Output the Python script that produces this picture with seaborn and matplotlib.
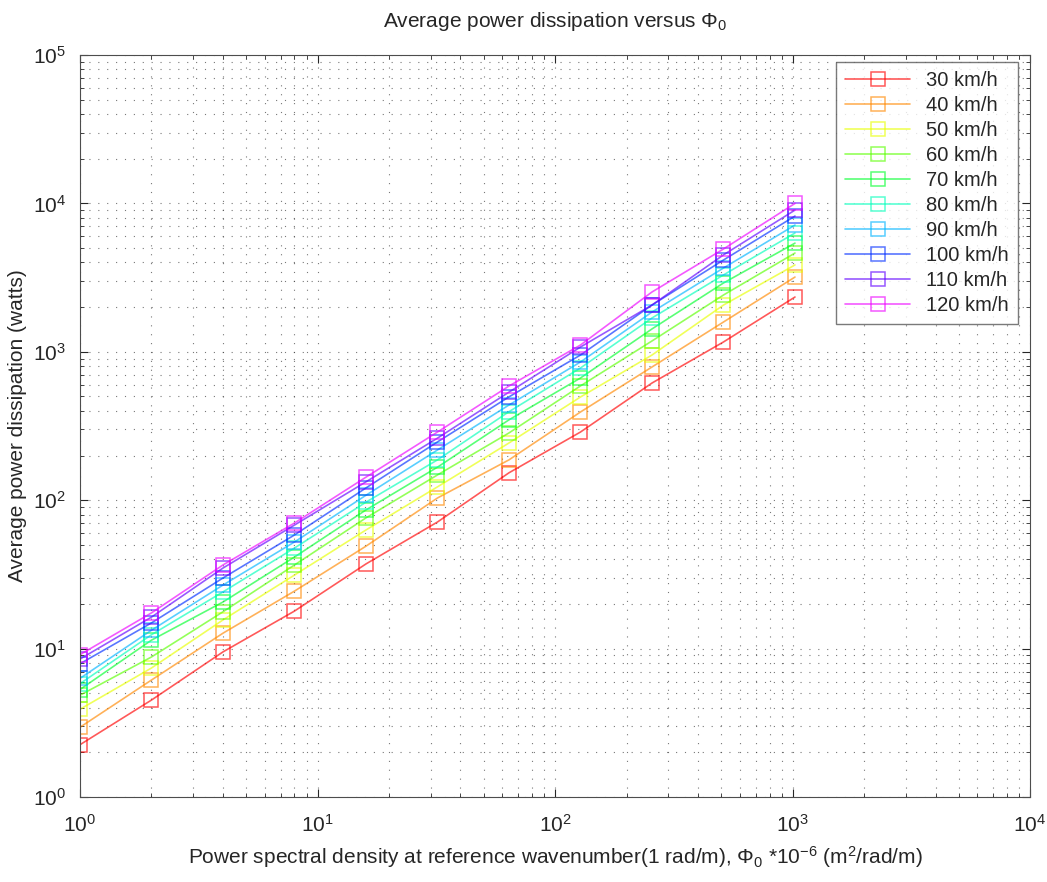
import numpy as np
import pandas as pd
import matplotlib
matplotlib.use("Agg")
import matplotlib.pyplot as plt
import seaborn as sns

# reference PSD values (x) and average power per vehicle speed
phi0 = [1, 2, 4, 8, 16, 32, 64, 128, 256, 512, 1024]
speeds = ["30 km/h", "40 km/h", "50 km/h", "60 km/h", "70 km/h",
          "80 km/h", "90 km/h", "100 km/h", "110 km/h", "120 km/h"]
p30 = [2.25, 4.5, 9.5, 17.9, 37.2, 71.3, 153, 288, 616, 1165, 2340]
p40 = [2.95, 6.14, 12.7, 24.4, 49, 103.5, 187, 393, 790, 1588, 3190]
p50 = [3.9, 7.4, 15.6, 31.3, 63, 123, 243, 496, 951, 2066, 3850]
p60 = [4.85, 8.78, 17.7, 36.6, 76, 148, 284, 589, 1183, 2414, 4630]
p70 = [5.3, 11.4, 20.6, 41.4, 86, 167, 348, 666, 1426, 2909, 5400]
p80 = [5.8, 12.4, 24.1, 47.6, 97, 187, 395, 778, 1690, 3296, 6320]
p90 = [6.3, 13.3, 26.8, 52.3, 108, 218, 438, 854, 1853, 3670, 7150]
p100 = [7.9, 14.9, 29.9, 58.3, 121, 247, 497, 951, 2066, 4155, 8220]
p110 = [8.5, 16.3, 34.9, 68, 133, 262, 535, 1077, 2066, 4500, 9020]
p120 = [9.1, 17.4, 36.6, 70.2, 143, 288, 588, 1111, 2530, 4930, 10000]
power = [p30, p40, p50, p60, p70, p80, p90, p100, p110, p120]

sns.set_style("ticks")
plt.rcParams["font.family"] = ["Liberation Sans", "DejaVu Sans"]
plt.rcParams["mathtext.fontset"] = "custom"
plt.rcParams["mathtext.rm"] = "Liberation Sans"
plt.rcParams["mathtext.default"] = "regular"

colors = plt.cm.hsv(np.linspace(0, 300 / 360, len(speeds)))

fig = plt.figure(figsize=(10.47, 8.82), dpi=100)
ax = fig.add_axes([0.0764, 0.0964, 0.9074, 0.8412])

for name, vals, c in zip(speeds, power, colors):
    df = pd.DataFrame({"phi0": phi0, "power": vals})
    sns.lineplot(data=df, x="phi0", y="power", ax=ax, color=c, lw=1.2,
                 alpha=0.65, marker="s", ms=10, mfc="none", mec=c, mew=1.1,
                 label=name)

ax.set_xscale("log")
ax.set_yscale("log")
ax.set_xlim(1, 1e4)
ax.set_ylim(1, 1e5)

ax.grid(True, which="both", color="0.25", linestyle=(0, (1, 7)), lw=0.8, alpha=0.7)
ax.tick_params(which="both", direction="in", top=True, right=True, labelsize=15)
ax.tick_params(axis="x", which="major", pad=12)
ax.tick_params(axis="y", which="major", pad=10)
ax.tick_params(which="major", length=6)
ax.tick_params(which="minor", length=3)
for s in ax.spines.values():
    s.set_color("0.3")
    s.set_linewidth(0.8)

ax.set_title("Average power dissipation versus Φ$_{0}$", fontsize=15, pad=20)
ax.set_xlabel("Power spectral density at reference wavenumber(1 rad/m), "
              "Φ$_{0}$ *10$^{-6}$ (m$^{2}$/rad/m)", fontsize=15, labelpad=6)
ax.set_ylabel("Average power dissipation (watts)", fontsize=15, labelpad=4)

leg = ax.legend(loc="upper right", bbox_to_anchor=(0.987, 0.991), fontsize=14.5,
                frameon=True, fancybox=False, handlelength=3.2, borderaxespad=0,
                borderpad=0.45, labelspacing=0.3, edgecolor="0.35")
leg.get_frame().set_linewidth(1.0)

fig.savefig("out.png", dpi=100)
